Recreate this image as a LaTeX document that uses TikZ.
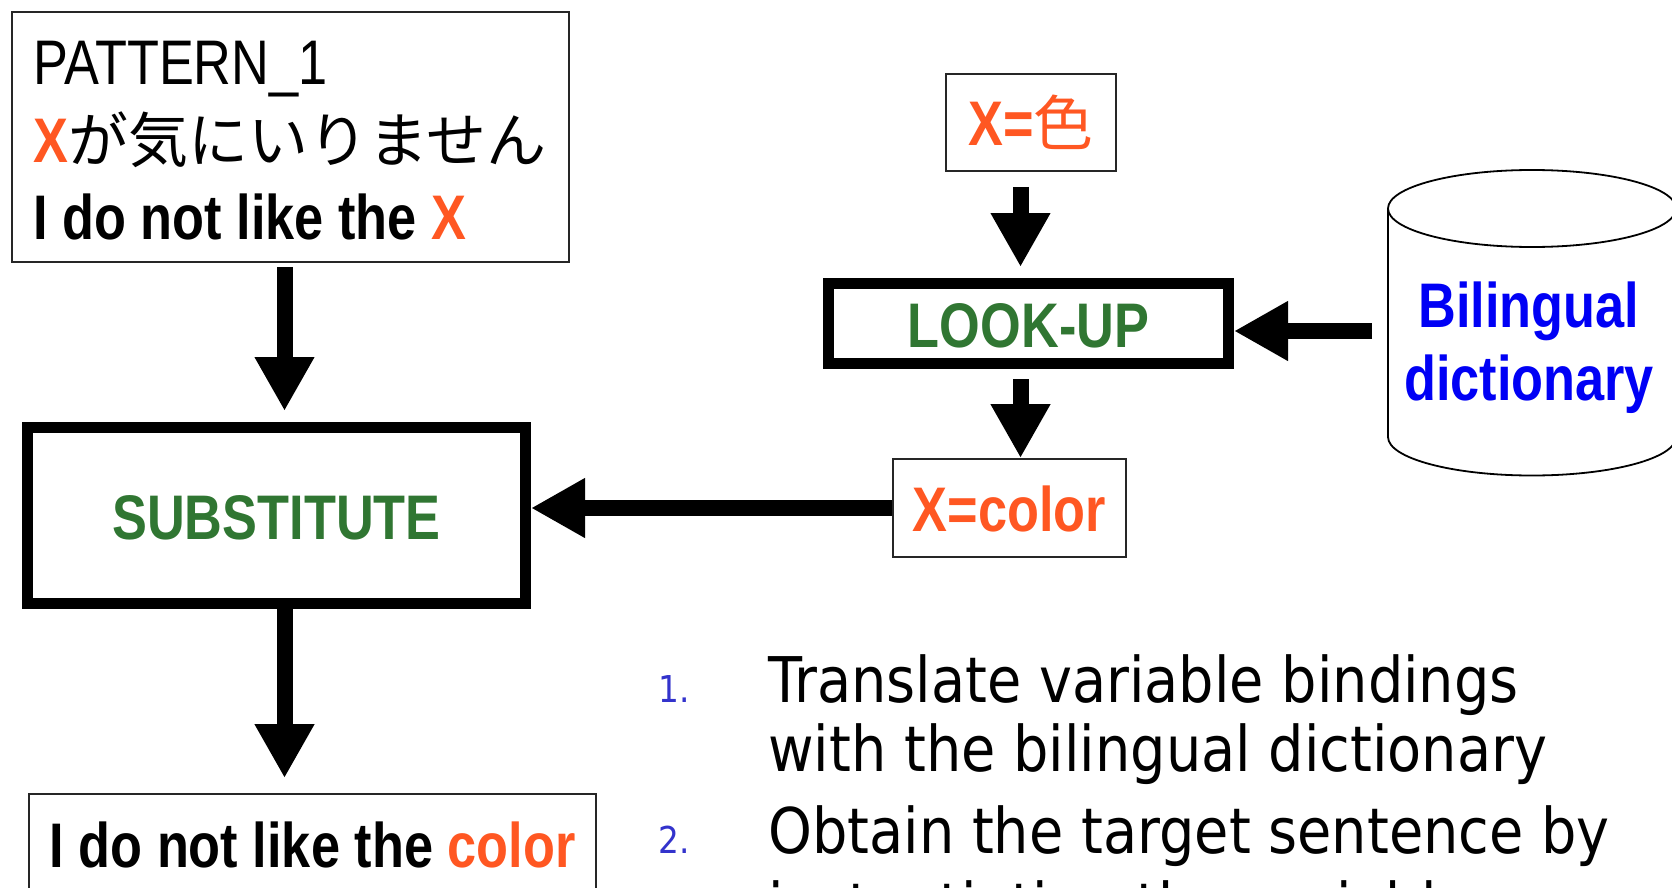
\documentclass[tikz,border=0pt]{standalone}
\usepackage{fontspec}
\usetikzlibrary{arrows.meta,calc}

\newfontfamily\narrowsans{Liberation Sans}[FakeStretch=0.83]
\newfontfamily\jpsans{Noto Sans CJK JP}
\newfontfamily\listsans{DejaVu Sans}[FakeStretch=0.885]

\definecolor{varorange}{RGB}{255,87,34}
\definecolor{stepgreen}{RGB}{48,118,50}
\definecolor{dictblue}{RGB}{0,0,245}
\definecolor{numblue}{RGB}{51,51,204}

\newcommand{\bigsans}{\narrowsans\fontsize{63}{63}\selectfont}
\newcommand{\bigjp}{\jpsans\mdseries\fontsize{60}{60}\selectfont}
\newcommand{\listtext}{\listsans\fontsize{63}{63}\selectfont}
\newcommand{\listnum}{\listsans\fontsize{37}{37}\selectfont}

\tikzset{
  thinbox/.style={draw=black!85, line width=1.8pt, inner sep=0pt, fill=white,
    text height=47pt, text depth=0pt, font=\bigsans\bfseries},
  thickbox/.style={draw=black, line width=11pt, inner sep=0pt,
    text height=47pt, text depth=0pt, font=\bigsans\bfseries, text=stepgreen},
  fatarrow/.style={draw=black, line width=16pt, -{Triangle[width=56pt,length=54pt]}},
  linetext/.style={anchor=base west, inner sep=0pt},
  itemtext/.style={anchor=base west, inner sep=0pt, font=\listtext},
  itemnum/.style={anchor=base west, inner sep=0pt, font=\listnum, text=numblue},
  dicttext/.style={anchor=base, inner sep=0pt, font=\bigsans\bfseries, text=dictblue},
}

\begin{document}
\begin{tikzpicture}[x=1pt, y=-1pt]
\useasboundingbox (0,0) rectangle (1672,888);
\clip (0,0) rectangle (1672,888);
\fill[white] (0,0) rectangle (1672,888);

% pattern box with its three lines
\node[thinbox, minimum width=557pt, minimum height=250pt] (pat) at (290.5,137) {};
\node[linetext, font=\bigsans] (patname) at (33,85) {PATTERN\_1};
\node[linetext] (patjp) at (33,162)
  {{\bigsans\bfseries\color{varorange}X}{\bigjp が気にいりません}};
\node[linetext, font=\bigsans\bfseries] (paten) at (33,239)
  {I do not like the {\color{varorange}X}};

% processing steps
\node[thickbox, minimum width=498pt, minimum height=176pt] (sub) at (276.5,515.5) {SUBSTITUTE};
\node[thickbox, minimum width=400pt, minimum height=80pt] (look) at (1028.5,323.5) {LOOK-UP};

% variable bindings
\node[thinbox, minimum width=170pt, minimum height=97pt, text=varorange] (xk) at (1031,122.5)
  {X={\bigjp 色}};
\node[thinbox, minimum width=233pt, minimum height=98pt, text=varorange] (xcol) at (1009.5,508)
  {X=color};

% result sentence
\node[thinbox, minimum width=567pt, minimum height=100pt] (res) at (312.5,844)
  {I do not like the {\color{varorange}color}};

% bilingual dictionary (database cylinder)
\coordinate (cyl) at (1532,208.5);
\draw[line width=1.8pt, fill=white]
  ($(cyl)+(-144,0)$) -- ($(cyl)+(-144,228.5)$)
  arc[start angle=180, end angle=360, x radius=144pt, y radius=38.5pt]
  -- ($(cyl)+(144,0)$);
\draw[line width=1.8pt, fill=white] (cyl) ellipse[x radius=144pt, y radius=38.5pt];
\node[dicttext] (dict1) at (1529,327) {Bilingual};
\node[dicttext] (dict2) at (1529,400) {dictionary};
\coordinate (dictout) at (1372,331);

% connectors
\coordinate (a1) at ([xshift=-6pt,yshift=-4pt]pat.south);
\draw[fatarrow, shorten >=11pt] (a1) -- (a1 |- sub.north);
\coordinate (a2) at ([xshift=8pt]sub.south);
\draw[fatarrow, shorten >=15pt] (a2) -- (a2 |- res.north);
\coordinate (a3) at ([xshift=-10.5pt,yshift=-15pt]xk.south);
\draw[fatarrow, shorten >=11pt] (a3) -- (a3 |- look.north);
\coordinate (a4) at ([xshift=-8pt,yshift=-10pt]look.south);
\draw[fatarrow] (a4) -- (a4 |- xcol.north);
\draw[fatarrow] (dictout) -- (dictout -| look.east);
\draw[fatarrow] (xcol.west) -- (xcol.west -| sub.east);

% steps list
\node[itemnum] (n1) at (658,702) {1.};
\node[itemtext] (t1a) at (768,702) {Translate variable bindings};
\node[itemtext] (t1b) at (768,771) {with the bilingual dictionary};
\node[itemnum] (n2) at (658,853) {2.};
\node[itemtext] (t2a) at (768,853) {Obtain the target sentence by};
\node[itemtext] (t2b) at (768,928) {instantiating the variables};
\end{tikzpicture}
\end{document}
